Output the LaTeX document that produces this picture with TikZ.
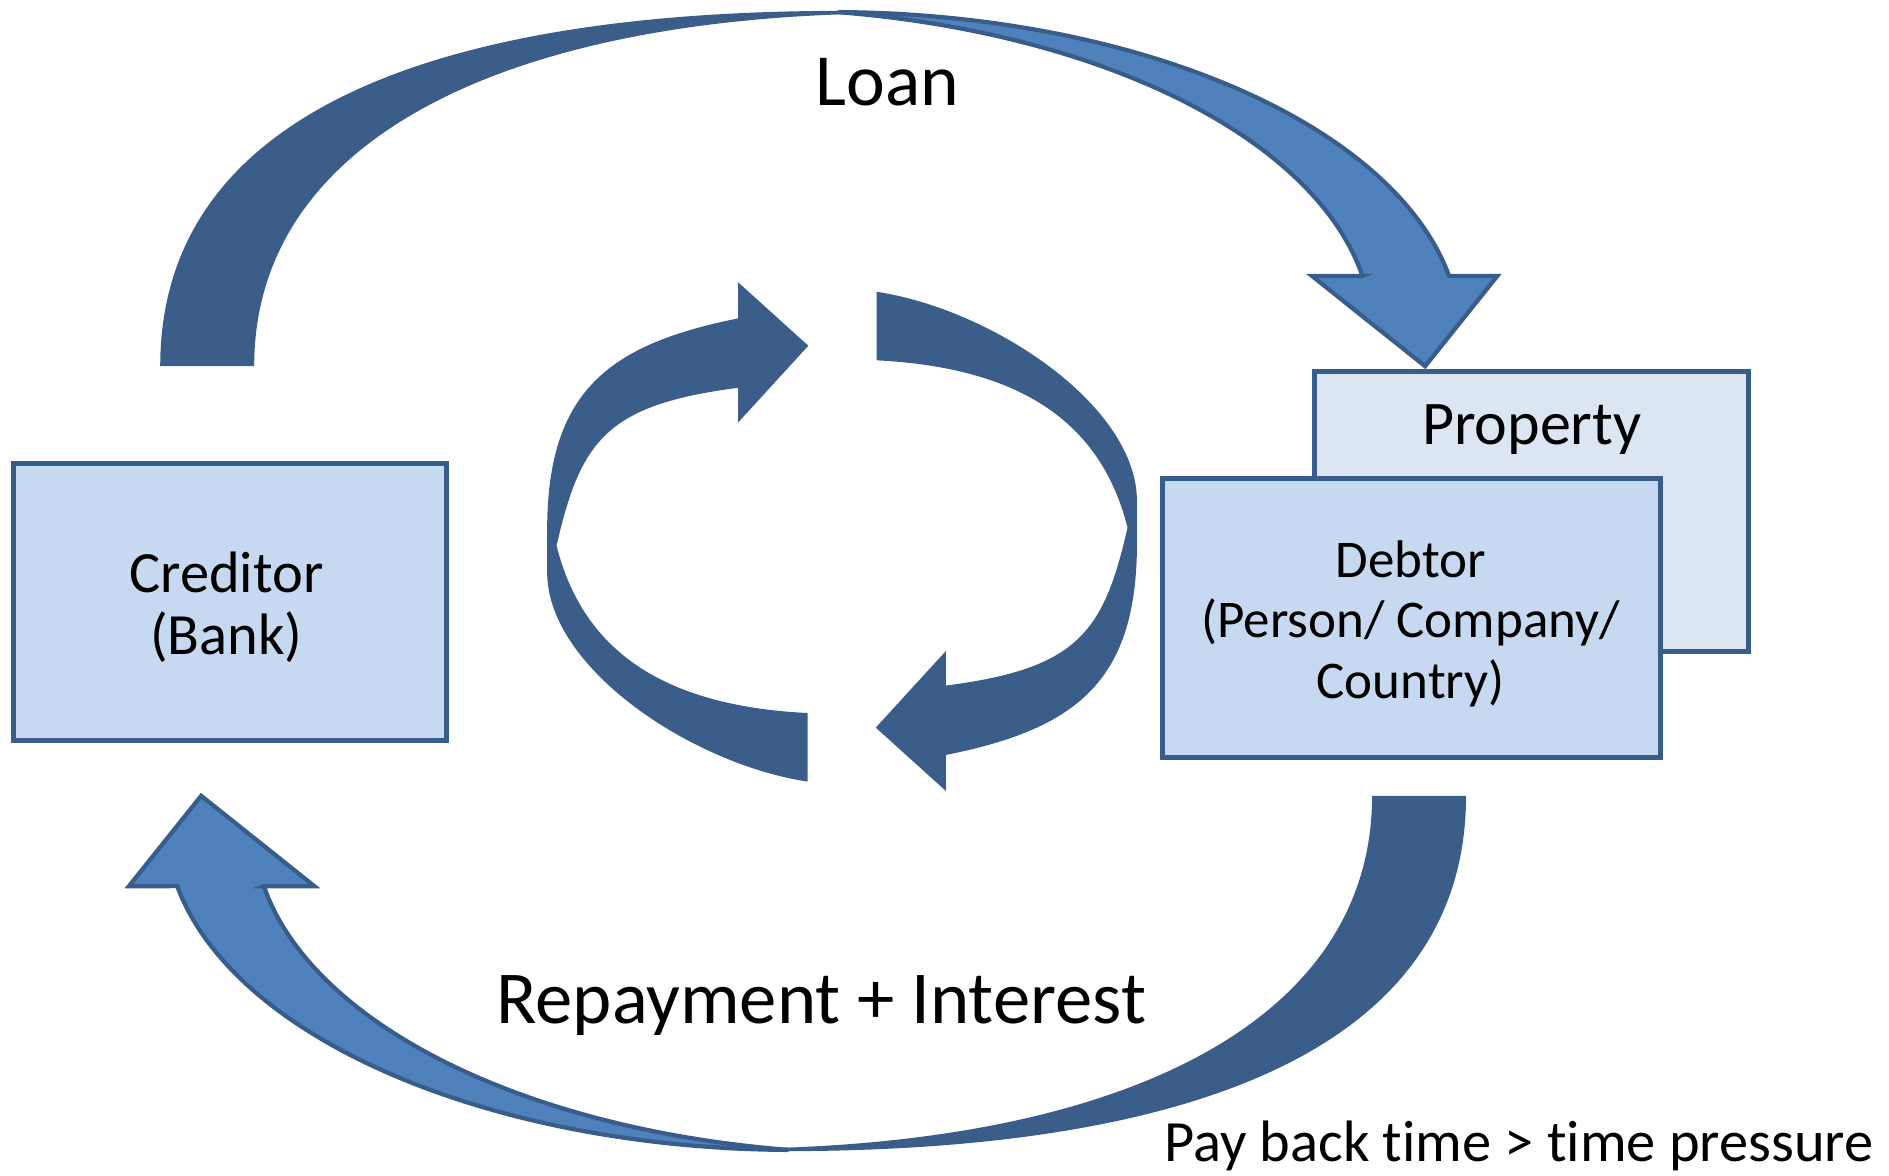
\documentclass[tikz,border=0pt]{standalone}
\usepackage{fontspec}
\setmainfont{Carlito}[Ligatures=NoCommon]
\definecolor{arrdark}{HTML}{3A5D89}
\definecolor{arrlight}{HTML}{4F81BD}
\definecolor{edgeblue}{HTML}{385D8A}
\definecolor{boxfill}{HTML}{C6D9F1}
\definecolor{propfill}{HTML}{DCE6F2}
\begin{document}
\begin{tikzpicture}[x=1pt,y=-1pt,
  boxshape/.style={draw=edgeblue, line width=4pt, inner sep=0pt, outer sep=0pt, anchor=north west},
  bandlight/.style={fill=arrlight, draw=edgeblue, line width=3.5pt, line join=miter},
  banddark/.style={fill=arrdark},
  lbl/.style={inner sep=0pt, outer sep=0pt, text=black}
]
\useasboundingbox (0,0) rectangle (1568.1,975.4);

% big curved arrows (Loan on top, Repayment = same shape turned by 180 degrees)
\foreach \ang in {0,180}{
\begin{scope}[rotate around={\ang:(675,482.3)}]
  \path[banddark]
    (133,304) .. controls (133,100) and (348,9) .. (700,9) -- (750,10)
    -- (750,11) .. controls (427,11) and (211,112) .. (211,304) -- cycle;
  \path[bandlight]
    plot[domain=-89.2:-10.71, samples=70] ({690+522*cos(\x)},{279+269*sin(\x)})
    -- (1243,229) -- (1183,304) -- (1089,229) -- (1131,229)
    -- plot[domain=-10.06:-81.2, samples=70] ({617+522*cos(\x)},{276+269*sin(\x)})
    -- cycle;
\end{scope}
}

% central cycle arrows
\foreach \ang in {0,180}{
\begin{scope}[rotate around={\ang:(699,445.5)}]
  \path[banddark]
    (612.8,264.3) .. controls (504.9,285.9) and (454.2,325) .. (454.2,440)
    -- (454.2,475) .. controls (454.2,555) and (575.4,634.6) .. (670.4,648.8)
    -- (670.4,591.9) .. controls (550.4,585.9) and (484,540.3) .. (462,453)
    .. controls (482,365.3) and (503.7,336) .. (612.8,321.9)
    -- (612.8,350.6) -- (671,287) -- (612.8,234.4) -- cycle;
\end{scope}
}

% boxes
\node[boxshape, fill=boxfill, minimum width=359.7pt, minimum height=230.4pt] (creditor) at (11,384.6) {};
\node[boxshape, fill=propfill, minimum width=360.3pt, minimum height=232.4pt] (property) at (1091.3,308.6) {};
\node[boxshape, fill=boxfill, minimum width=413.9pt, minimum height=231.5pt] (debtor) at (964.7,397.5) {};

% texts
\node[lbl, align=center, font=\fontsize{48.5}{52}\selectfont] (creditortext) at (188,504.2) {Creditor\\(Bank)};
\node[lbl, anchor=base, font=\fontsize{51.5}{60}\selectfont] (propertytext) at (1271.5,369.2) {Property};
\node[lbl, align=center, font=\fontsize{44}{50}\selectfont] (debtortext) at (1171,517.8) {Debtor\\(Person/ Company/\\Country)};
\node[lbl, anchor=base west, font=\fontsize{61}{70}\selectfont] (loan) at (677,87.2) {Loan};
\node[lbl, anchor=base west, font=\fontsize{62}{70}\selectfont] (repay) at (412,849.5) {Repayment + Interest};
\node[lbl, anchor=base west, font=\fontsize{48.5}{56}\selectfont] (payback) at (966.4,964.5) {Pay back time > time pressure};
\end{tikzpicture}
\end{document}
